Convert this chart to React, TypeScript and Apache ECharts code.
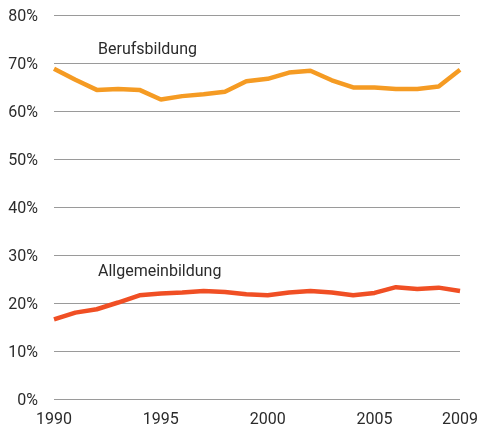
import React, { useEffect, useRef } from "react";
import * as echarts from "echarts";

const years = ["1990","1991","1992","1993","1994","1995","1996","1997","1998","1999","2000","2001","2002","2003","2004","2005","2006","2007","2008","2009"];
const berufsbildung = [68.8,66.5,64.4,64.6,64.4,62.4,63.1,63.5,64.0,66.2,66.7,68.0,68.4,66.4,64.9,64.9,64.6,64.6,65.1,68.6];
const allgemeinbildung = [16.6,18.0,18.7,20.1,21.6,22.0,22.2,22.5,22.3,21.8,21.6,22.2,22.5,22.2,21.6,22.1,23.3,22.9,23.2,22.5];
const shownYears = ["1990","1995","2000","2005","2009"];

export default function App() {
  const ref = useRef<HTMLDivElement>(null);
  useEffect(() => {
    if (!ref.current) return;
    const chart = echarts.init(ref.current, null, { renderer: "svg" });
    const font = "Roboto, 'Noto Sans', sans-serif";
    chart.setOption({
      animation: false,
      grid: { left: 54, right: 20, top: 15, bottom: 35 },
      xAxis: {
        type: "category",
        data: years,
        boundaryGap: false,
        axisLine: { show: false },
        axisTick: { show: false },
        axisLabel: {
          interval: (i: number, v: string) => shownYears.includes(v),
          color: "#2b2b2b",
          fontSize: 16,
          fontFamily: font,
          margin: 11,
        },
      },
      yAxis: {
        type: "value",
        min: 0,
        max: 80,
        interval: 10,
        axisLine: { show: false },
        axisTick: { show: false },
        splitLine: { lineStyle: { color: "#9a9a9a", width: 1 } },
        axisLabel: {
          formatter: "{value}%",
          color: "#2b2b2b",
          fontSize: 16,
          fontFamily: font,
          margin: 16,
        },
      },
      series: [
        {
          name: "Berufsbildung",
          type: "line",
          data: berufsbildung,
          symbol: "none",
          lineStyle: { color: "#F59B23", width: 4.5 },
        },
        {
          name: "Allgemeinbildung",
          type: "line",
          data: allgemeinbildung,
          symbol: "none",
          lineStyle: { color: "#F04F24", width: 4.5 },
        },
      ],
      graphic: [
        {
          type: "text",
          left: 98,
          top: 40,
          style: { text: "Berufsbildung", fill: "#2b2b2b", fontSize: 16, fontFamily: font },
        },
        {
          type: "text",
          left: 98,
          top: 262,
          style: { text: "Allgemeinbildung", fill: "#2b2b2b", fontSize: 16, fontFamily: font },
        },
      ],
    });
    return () => chart.dispose();
  }, []);
  return <div ref={ref} style={{ position: "fixed", left: 0, top: 0, width: 481, height: 434 }} />;
}
